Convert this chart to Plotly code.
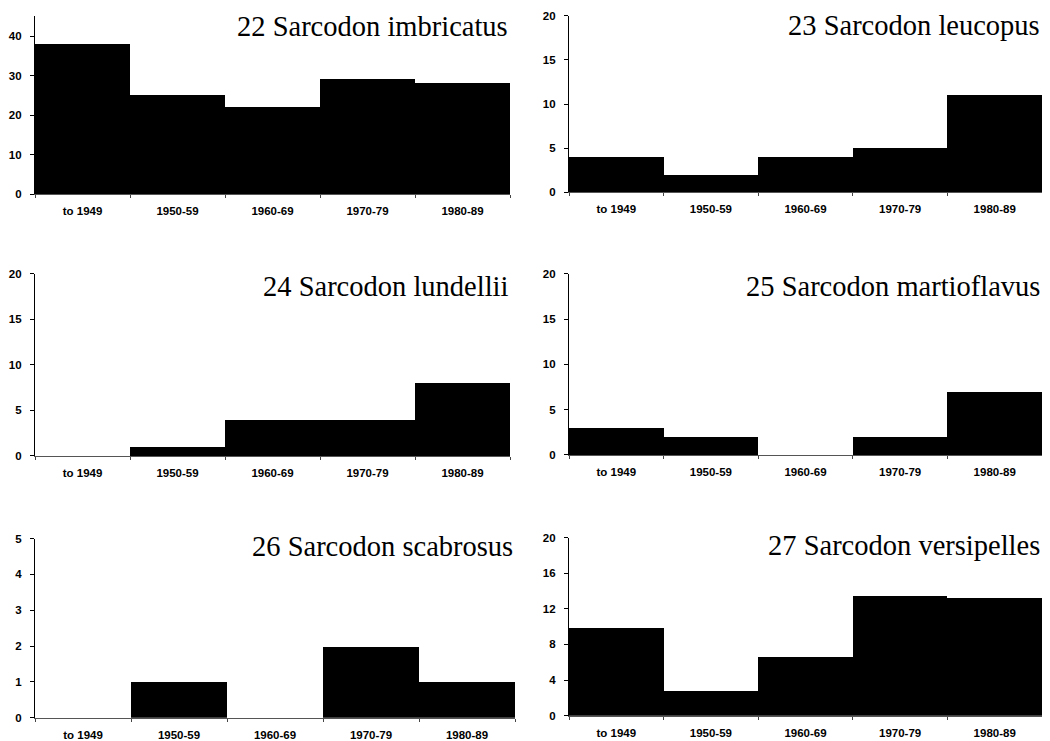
import plotly.graph_objects as go

periods = ["to 1949", "1950-59", "1960-69", "1970-79", "1980-89"]
titles = ["22 Sarcodon imbricatus", "23 Sarcodon leucopus", "24 Sarcodon lundellii",
          "25 Sarcodon martioflavus", "26 Sarcodon scabrosus", "27 Sarcodon versipelles"]
imbricatus = [38, 25, 22, 29, 28]
leucopus = [4, 2, 4, 5, 11]
lundellii = [0, 1, 4, 4, 8]
martioflavus = [3, 2, 0, 2, 7]
scabrosus = [0, 1, 0, 2, 1]
versipelles = [9.9, 2.8, 6.7, 13.5, 13.3]
series = [imbricatus, leucopus, lundellii, martioflavus, scabrosus, versipelles]
y_max = [45, 20, 20, 20, 5, 20]
y_dtick = [10, 5, 5, 5, 1, 4]

OFF = 8  # page body margin
W, H = 1050 - 2 * OFF, 741 - OFF
# pixel boxes in page coordinates (left, right, top, bottom)
boxes = [(35, 510, 15.4, 194), (569, 1042, 15, 192),
         (35, 510, 274, 457), (569, 1042, 274, 456),
         (35, 515, 540, 720), (569, 1042, 539, 718)]
title_dy = [10, 10, 13, 13, 8, 8]


def ycorr(v):
    # empirical vertical calibration of the rendered page
    return (v - 5.2) / 0.984


fig = go.Figure()
xpos = list(range(len(periods)))
tick_font = dict(family="Liberation Sans", size=11.5, color="black", weight="bold")
for i, (vals, box) in enumerate(zip(series, boxes)):
    n = "" if i == 0 else str(i + 1)
    fig.add_trace(go.Bar(x=xpos, y=vals, width=1, marker=dict(color="black", line=dict(width=0)),
                         xaxis="x" + n, yaxis="y" + n, showlegend=False))
    l, r = box[0] - OFF, box[1] - OFF
    t, b = ycorr(box[2]) - OFF, ycorr(box[3]) - OFF
    xd = [max(0, l / W), min(1, r / W)]
    yd = [max(0, 1 - b / H), min(1, 1 - t / H)]
    fig.layout["xaxis" + n] = dict(
        domain=xd, anchor="y" + n, range=[-0.5, 4.5], tickvals=xpos, ticktext=periods,
        ticks="", showline=True, linecolor="#555", linewidth=1, showgrid=False, zeroline=False,
        tickfont=tick_font, ticklabelstandoff=6,
        minor=dict(tickvals=[k - 0.5 for k in range(6)], ticks="outside", ticklen=3,
                   tickcolor="#444", showgrid=False))
    fig.layout["yaxis" + n] = dict(
        domain=yd, anchor="x" + n, range=[0, y_max[i]], dtick=y_dtick[i], tick0=0,
        ticks="outside", ticklen=4, tickcolor="black", showline=True, linecolor="black",
        linewidth=1.2, showgrid=False, zeroline=False,
        tickfont=tick_font, ticklabelstandoff=6)
    fig.add_annotation(text=titles[i], xref="x" + n + " domain", yref="paper",
                       x=1, y=1 - (ycorr(box[2] + title_dy[i]) - OFF) / H,
                       xanchor="right", yanchor="middle", showarrow=False,
                       font=dict(family="Liberation Serif", size=28.5, color="black"))

fig.update_layout(width=W, height=H, margin=dict(l=0, r=0, t=0, b=0),
                  plot_bgcolor="white", paper_bgcolor="white", bargap=0)
fig.write_html("out.html")
